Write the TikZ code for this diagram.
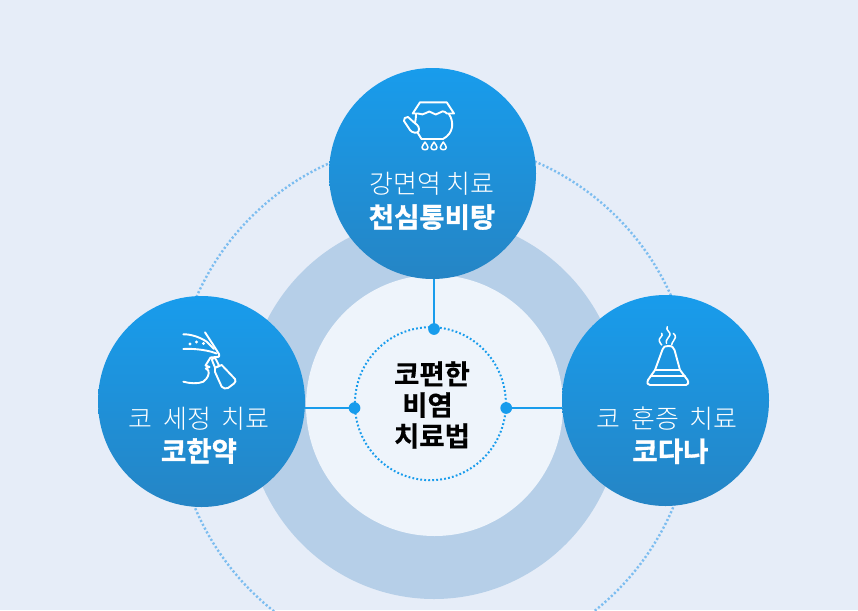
\documentclass[tikz,border=0pt]{standalone}
\usetikzlibrary{shapes.geometric}
\usepackage{fontspec}
\setmainfont{Noto Sans CJK KR}
\newfontfamily\lightkr{Noto Sans CJK KR Light}
\newfontfamily\blackkr[FakeBold=1.2]{Noto Sans CJK KR Bold}
\newfontfamily\boldkr[FakeBold=0.4]{Noto Sans CJK KR Bold}
\definecolor{bgc}{HTML}{E6EDF8}
\definecolor{ringc}{HTML}{B6CFE8}
\definecolor{innerc}{HTML}{EEF4FB}
\definecolor{dotc}{HTML}{7CBDF0}
\definecolor{bluec}{HTML}{189CEC}
\definecolor{blued}{HTML}{2585C5}
\tikzset{
  disc/.style 2 args={ellipse,inner sep=0pt,minimum width=#1,minimum height=#2,draw=none},
  bluedisc/.style={disc={207pt}{211pt},top color=bluec,bottom color=blued},
  pin/.style={circle,inner sep=0pt,minimum size=11.7pt,fill=bluec},
  conn/.style={draw=bluec,line width=2pt},
  ico/.style={draw=white,line width=1.9pt,line cap=round,line join=round},
  lbl/.style={text=white,align=center,inner sep=0pt},
}
\newcommand{\lt}[1]{{\fontsize{26}{33}\selectfont\lightkr #1}}
\newcommand{\bt}[1]{{\fontsize{27.5}{33}\selectfont\blackkr #1}}
\begin{document}
\begin{tikzpicture}[x=1pt,y=-1pt]
\path[use as bounding box,fill=bgc] (0,0) rectangle (858,610);
\begin{scope}
\clip (0,0) rectangle (858,610);
\node[disc={520pt}{526pt},draw=dotc,line width=2.4pt,dash pattern=on 2.1pt off 2.2pt] (outer) at (434,404) {};
\node[disc={376pt}{382pt},fill=ringc] (ring) at (434,408) {};
\end{scope}
\node[disc={257pt}{261pt},fill=innerc] (inner) at (434.5,405.5) {};
\node[disc={151pt}{153pt},draw=bluec,line width=2pt,dash pattern=on 1.8pt off 2.2pt] (core) at (430.4,403.7) {};
\node[bluedisc] (top) at (432.5,173.5) {};
\node[bluedisc] (left) at (201.5,401.5) {};
\node[bluedisc] (right) at (665.5,400.5) {};
\node[pin] (pt) at (434,329) {};
\node[pin] (pl) at (354.5,408) {};
\node[pin] (pr) at (506.2,408) {};
\draw[conn] (pt.center) -- (pt.center |- top.south);
\draw[conn] (pl.center) -- (pl.center -| left.east);
\draw[conn] (pr.center) -- (pr.center -| right.west);
% labels
\node[lbl] (ttop) at (432,201) {\lt{강면역 치료}\\[8pt]\bt{천심통비탕}};
\node[lbl] (tleft) at (199,435.5) {\lt{코 \hspace{4.5pt}세정 \hspace{4.5pt}치료}\\[7pt]\bt{코한약}};
\node[lbl] (tright) at (667,435.5) {\lt{코 \hspace{4.5pt}훈증 \hspace{4.5pt}치료}\\[7pt]\bt{\mbox{\kern7pt 코다나}}};
\node[align=center,inner sep=0pt,text=black,font=\fontsize{27.5}{31}\selectfont\boldkr] (tcore) at (432,405) {코편한\\\mbox{비염\kern9pt}\\치료법};
% jar icon
\begin{scope}[ico]
\draw (447,113.5) .. controls (444,110.5) and (441,111) .. (439,113) .. controls (437,115) and (434.5,115) .. (432.5,113) .. controls (430.5,111) and (428,111) .. (426,113) .. controls (424,115) and (421,114.5) .. (418,113.5) -- (412.7,113.5) -- (420,102.3) -- (446.7,102.3) -- (454,113.5) -- cycle;
\draw (416,114) .. controls (416,118) and (415.5,120) .. (415,123);
\draw (449,114) .. controls (454,122) and (454,133) .. (443,139) -- (421.5,139) -- (417.5,132.5);
\draw (415,123.3) -- (408,117) .. controls (405.5,116.5) and (403,119) .. (404,121) -- (410,130) .. controls (412,133) and (417,133.5) .. (418.5,131.5) .. controls (420,128) and (418,125) .. (415,123.3) -- cycle;
\foreach \x in {425,434,443.3}{
  \draw[line width=1.5pt] (\x,142) .. controls (\x-1.5,144.5) and (\x-3,146) .. (\x-3,147.5) .. controls (\x-3,150.5) and (\x+3,150.5) .. (\x+3,147.5) .. controls (\x+3,146) and (\x+1.5,144.5) .. (\x,142) -- cycle;
}
\end{scope}
% nose icon
\begin{scope}[ico]
\draw (183.3,334.3) .. controls (190,334) and (200,337) .. (206.7,341.7) -- (214,349);
\draw (183.3,349) .. controls (190,348.5) and (205,349) .. (216.7,353.5);
\draw (205,332.3) -- (213.3,345) -- (219,354) .. controls (220,357) and (218,357.5) .. (216,357) -- (210.5,357.5) -- (205.5,365.5) -- (209.5,367) -- (205.8,368.5) -- (208.3,370.5) .. controls (209.5,374) and (208,378) .. (203.3,381.7) .. controls (198,384) and (190,383.5) .. (183.3,381.7);
\draw (211.7,359.3) -- (215,357.7) -- (219.3,366) -- (215,367.7) -- cycle;
\draw (215,367.7) -- (221.7,365) -- (235,379) .. controls (236,381) and (235.5,382) .. (234,383.5) -- (228,388) .. controls (226,389) and (223,388.5) .. (221.7,386.7) -- (215,372) -- cycle;
\fill[white,draw=none] (190,344) circle (1.6pt) (196.5,342) circle (1.6pt) (203.5,343.5) circle (1.6pt);
\end{scope}
% bell icon
\begin{scope}[ico]
\draw (655,370) -- (662.5,349.5) .. controls (663.5,346.5) and (665,346) .. (668,346) .. controls (672,346) and (673.5,347) .. (674.5,350) -- (680,370);
\draw (655,370) -- (680,370) -- (687.5,380) .. controls (689,383) and (688,385) .. (686,385) -- (650,385) .. controls (647.5,385) and (646.8,383) .. (648,380) -- cycle;
\draw (650.5,376) -- (685,376);
\draw[line width=1.5pt] (667.3,326.7) .. controls (665,330) and (671,332) .. (670,335) .. controls (669,338) and (665,340) .. (666.5,343.3);
\draw[line width=1.5pt] (661.7,333.3) .. controls (664,336) and (658,338) .. (659.3,341) .. controls (660,343) and (661,344) .. (661.7,345);
\draw[line width=1.5pt] (673.3,333.3) .. controls (677,336) and (675,339) .. (673.5,341) .. controls (672.5,342.5) and (671.5,343.5) .. (671.7,345);
\end{scope}
\end{tikzpicture}
\end{document}
